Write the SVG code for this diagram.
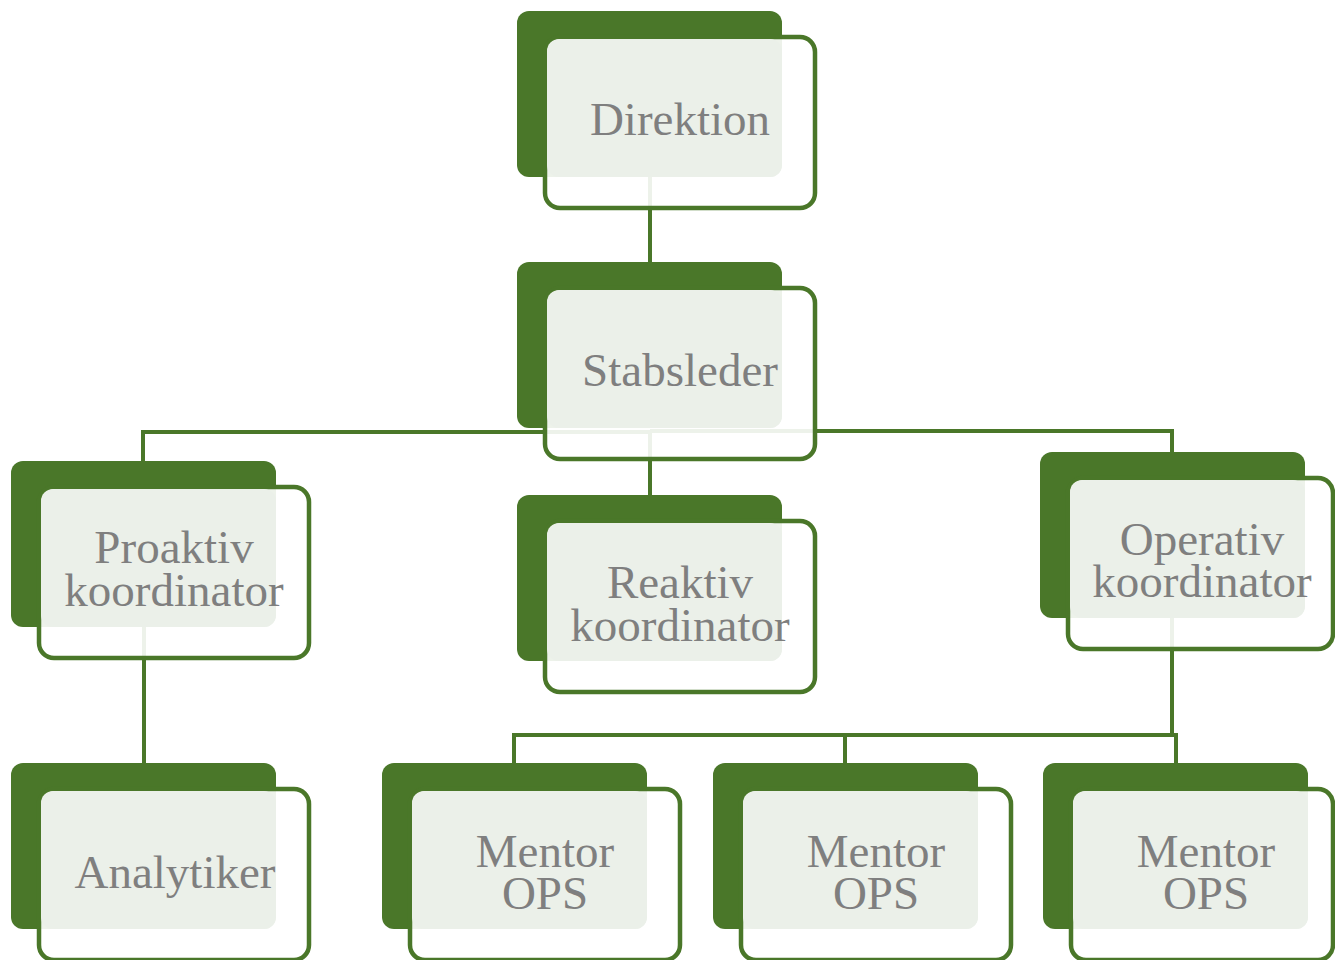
<svg xmlns="http://www.w3.org/2000/svg" width="1335" height="960" viewBox="0 0 1335 960">
<style>
.back{fill:#4a7729}
.frame{fill:#ffffff;fill-opacity:0.9;stroke:#4a7729;stroke-width:4.5}
.light{fill:#ebf0e9}
.lbl{font-family:"Liberation Serif","Times New Roman",serif;font-size:47px;fill:#7f7f7f;text-anchor:middle}
.conn{fill:none;stroke:#4a7729;stroke-width:4}
</style>
<rect width="1335" height="960" fill="#ffffff"/>
<g id="connectors">
<path class="conn" d="M650 177 V262"/>
<path class="conn" d="M650 432 H143 V461"/>
<path class="conn" d="M650 432 V495"/>
<path class="conn" d="M650 431 H1172 V452"/>
<path class="conn" d="M144 626 V763"/>
<path class="conn" d="M1172 617 V735"/>
<path class="conn" d="M514 763 V735 H1176 V763"/>
<path class="conn" d="M845 735 V763"/>
</g>
<g id="direktion" transform="translate(517 11)">
<rect class="back" width="265" height="166" rx="12"/>
<rect class="frame" x="28" y="26" width="270" height="171" rx="15"/>
<rect class="light" x="30" y="28" width="235" height="138" rx="12"/>
<text class="lbl" x="163" y="124">Direktion</text>
</g>
<g id="stabsleder" transform="translate(517 262)">
<rect class="back" width="265" height="166" rx="12"/>
<rect class="frame" x="28" y="26" width="270" height="171" rx="15"/>
<rect class="light" x="30" y="28" width="235" height="138" rx="12"/>
<text class="lbl" x="163" y="124">Stabsleder</text>
</g>
<g id="proaktiv" transform="translate(11 461)">
<rect class="back" width="265" height="166" rx="12"/>
<rect class="frame" x="28" y="26" width="270" height="171" rx="15"/>
<rect class="light" x="30" y="28" width="235" height="138" rx="12"/>
<text class="lbl" x="163" y="102">Proaktiv<tspan x="163" dy="43">koordinator</tspan></text>
</g>
<g id="reaktiv" transform="translate(517 495)">
<rect class="back" width="265" height="166" rx="12"/>
<rect class="frame" x="28" y="26" width="270" height="171" rx="15"/>
<rect class="light" x="30" y="28" width="235" height="138" rx="12"/>
<text class="lbl" x="163" y="103">Reaktiv<tspan x="163" dy="43">koordinator</tspan></text>
</g>
<g id="operativ" transform="translate(1040 452)">
<rect class="back" width="265" height="166" rx="12"/>
<rect class="frame" x="28" y="26" width="265" height="171" rx="15"/>
<rect class="light" x="30" y="28" width="235" height="138" rx="12"/>
<text class="lbl" x="162" y="103">Operativ<tspan x="162" dy="42">koordinator</tspan></text>
</g>
<g id="analytiker" transform="translate(11 763)">
<rect class="back" width="265" height="166" rx="12"/>
<rect class="frame" x="28" y="26" width="270" height="171" rx="15"/>
<rect class="light" x="30" y="28" width="235" height="138" rx="12"/>
<text class="lbl" x="164" y="125">Analytiker</text>
</g>
<g id="mentor1" transform="translate(382 763)">
<rect class="back" width="265" height="166" rx="12"/>
<rect class="frame" x="28" y="26" width="270" height="171" rx="15"/>
<rect class="light" x="30" y="28" width="235" height="138" rx="12"/>
<text class="lbl" x="163" y="104">Mentor<tspan x="163" dy="42">OPS</tspan></text>
</g>
<g id="mentor2" transform="translate(713 763)">
<rect class="back" width="265" height="166" rx="12"/>
<rect class="frame" x="28" y="26" width="270" height="171" rx="15"/>
<rect class="light" x="30" y="28" width="235" height="138" rx="12"/>
<text class="lbl" x="163" y="104">Mentor<tspan x="163" dy="42">OPS</tspan></text>
</g>
<g id="mentor3" transform="translate(1043 763)">
<rect class="back" width="265" height="166" rx="12"/>
<rect class="frame" x="28" y="26" width="262" height="171" rx="15"/>
<rect class="light" x="30" y="28" width="235" height="138" rx="12"/>
<text class="lbl" x="163" y="104">Mentor<tspan x="163" dy="42">OPS</tspan></text>
</g>
</svg>
